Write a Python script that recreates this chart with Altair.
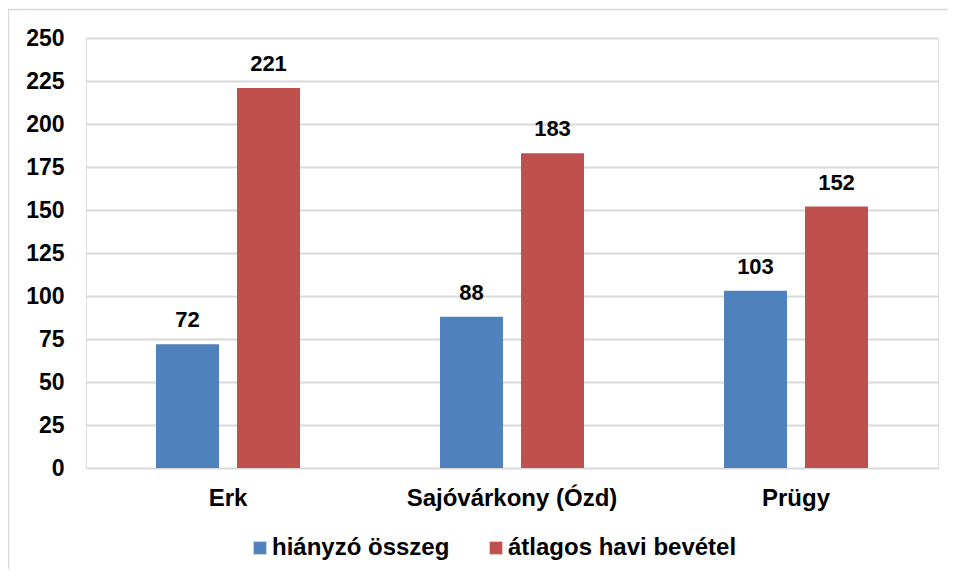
import altair as alt
import pandas as pd

categories = ["Erk", "Sajóvárkony (Ózd)", "Prügy"]
series = ["hiányzó összeg", "átlagos havi bevétel"]
missing = [72, 88, 103]
income = [221, 183, 152]
colors = ["#4F81BD", "#C0504D"]
y_ticks = list(range(0, 251, 25))

rows = []
for c, m, i in zip(categories, missing, income):
    rows.append({"place": c, "series": series[0], "value": m})
    rows.append({"place": c, "series": series[1], "value": i})
df = pd.DataFrame(rows)

W, H = 852, 430
FONT = "Liberation Sans"
FS = 23

base = alt.Chart(df).encode(
    x=alt.X("place:N", sort=categories, title=None,
            scale=alt.Scale(paddingInner=0, paddingOuter=0),
            axis=alt.Axis(labelAngle=0, ticks=False, domain=False,
                          labelPadding=18, labelFont=FONT, labelFontSize=24,
                          labelFontWeight="bold", labelColor="#000000",
                          labelLimit=0)),
    xOffset=alt.XOffset("series:N", sort=series,
                        scale=alt.Scale(paddingInner=0.222, paddingOuter=0.864)),
    y=alt.Y("value:Q", title=None,
            scale=alt.Scale(domain=[0, 250], nice=False),
            axis=alt.Axis(values=y_ticks, ticks=False, domain=False,
                          gridColor="#D9D9D9", gridWidth=2,
                          labelPadding=22, labelFont=FONT, labelFontSize=FS,
                          labelFontWeight="bold", labelColor="#000000")),
)

bars = base.mark_bar().encode(
    color=alt.Color("series:N", sort=series,
                    scale=alt.Scale(domain=series, range=colors),
                    legend=alt.Legend(title=None, orient="none", direction="horizontal",
                                      legendX=162, legendY=498,
                                      symbolType="square", symbolSize=160,
                                      symbolStrokeWidth=0, labelOffset=0,
                                      columnPadding=34,
                                      labelFont=FONT, labelFontSize=24,
                                      labelFontWeight="bold", labelColor="#000000",
                                      labelLimit=400))
)

labels = base.mark_text(baseline="bottom", dy=-12, font=FONT, fontSize=22,
                        fontWeight="bold", color="#000000").encode(
    text=alt.Text("value:Q")
)

border = alt.Chart(pd.DataFrame({"a": [0]})).mark_rect(
    fill=None, stroke="#D9D9D9", strokeWidth=1.5
).encode(
    x=alt.value(-77.5), x2=alt.value(W + 200),
    y=alt.value(-28.5), y2=alt.value(H + 300)
)

chart = alt.layer(border, bars, labels).properties(
    width=W, height=H,
    autosize=alt.AutoSizeParams(type="none"),
    padding={"left": 78, "top": 30, "right": 10, "bottom": 101},
).configure_view(stroke=None).configure(background="#FFFFFF")

chart.save("out.html", embed_options={"renderer": "svg", "actions": False})
